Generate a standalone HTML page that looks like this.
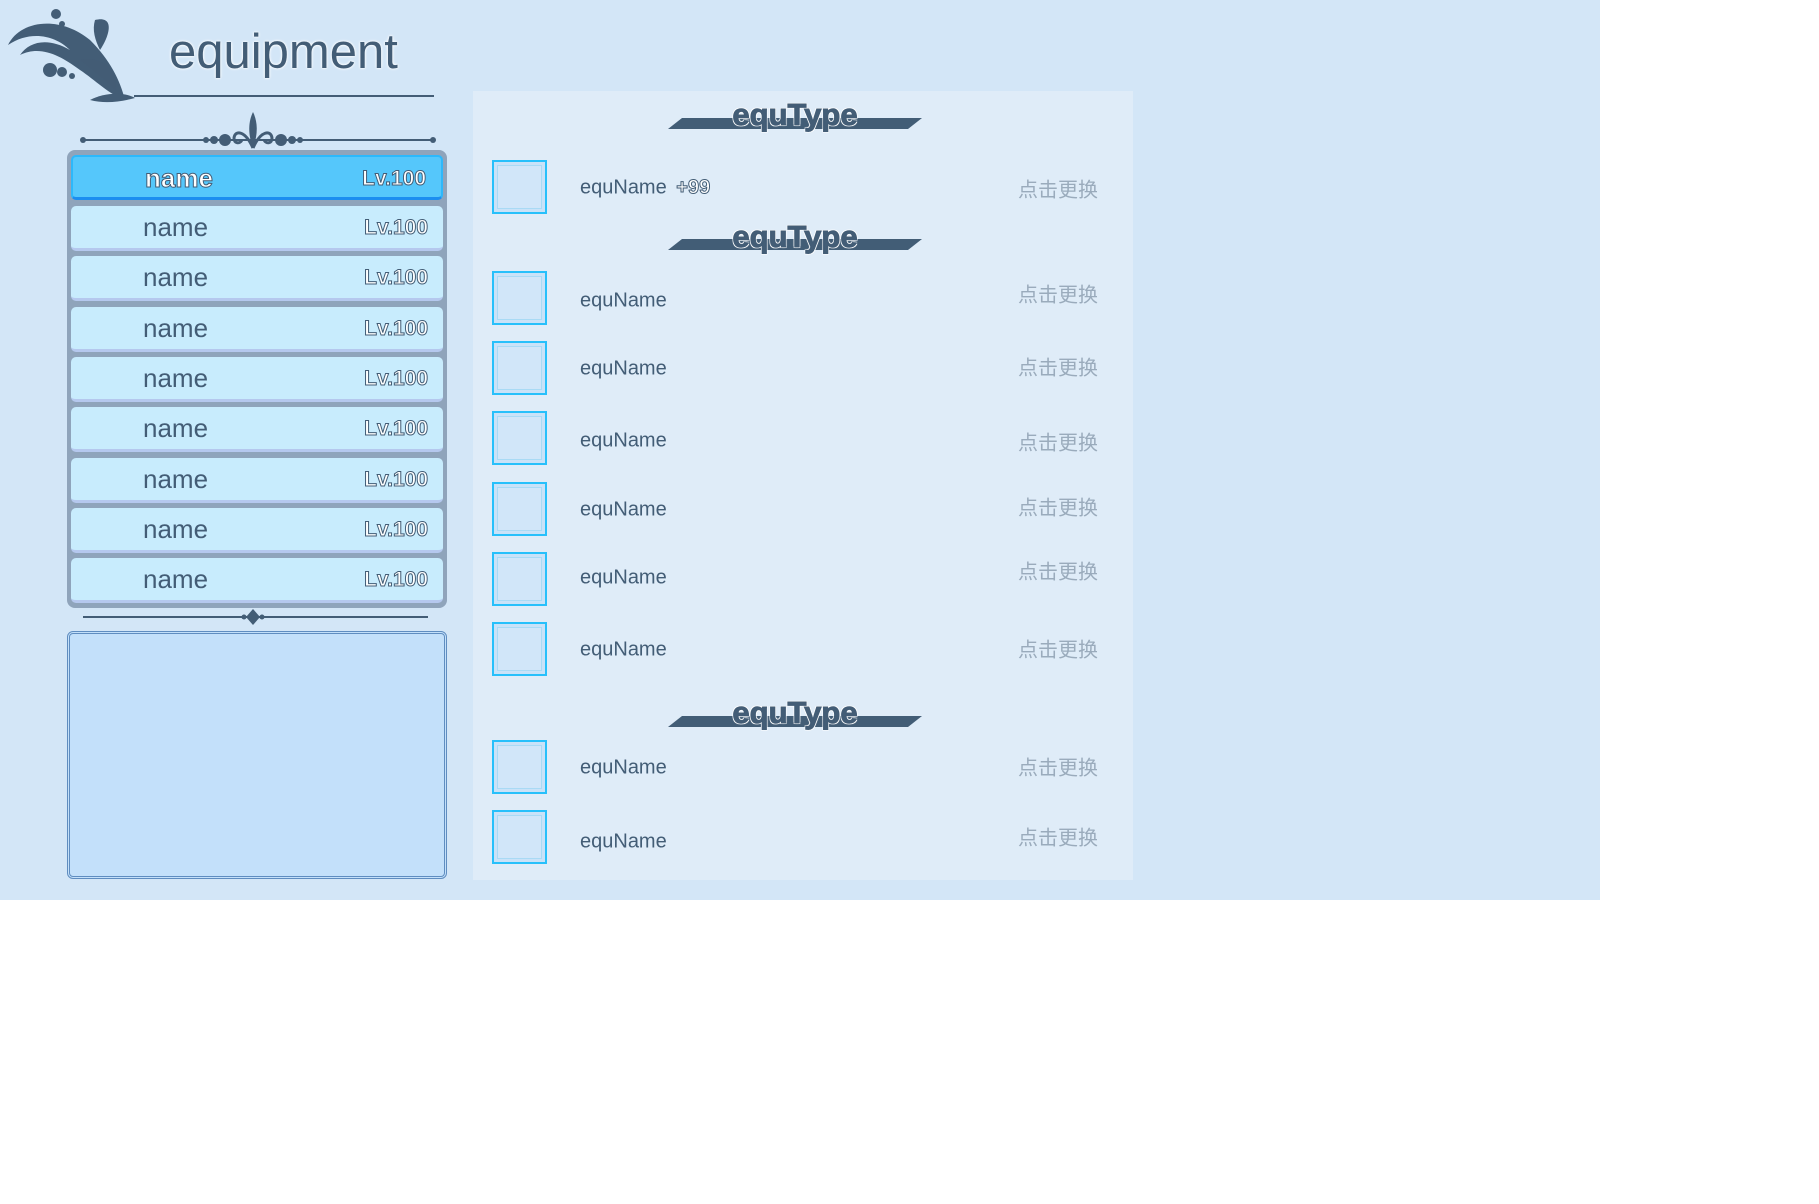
<!DOCTYPE html>
<html><head><meta charset="utf-8"><style>
*{margin:0;padding:0;box-sizing:border-box}
body{width:1819px;height:1204px;background:#fff;position:relative;overflow:hidden;font-family:"Liberation Sans","Noto Sans CJK SC",sans-serif}
.bg{position:absolute;left:0;top:0;width:1600px;height:900px;background:#d3e6f7}
.abs{position:absolute}
.title{left:169px;top:24px;font-size:49px;color:#435d76;letter-spacing:0px;text-shadow:0 0 3px #fff,0 0 2px #fff}
.list{left:67px;top:150px;width:380px;height:458px;background:#8fa4bb;border-radius:8px}
.row{position:absolute;left:4px;width:372px;height:45px;background:#c8ecfd;border-radius:5px;border-bottom:3px solid #b5c8ee}
.row .n{position:absolute;left:72px;top:6px;font-size:26px;color:#435d76}
.row .l{position:absolute;right:15px;top:10px;font-size:21px;color:#fff;-webkit-text-stroke:1px #435d76;font-weight:bold}
.row.sel{background:#55c7fb;border:2px solid #2db8fb;border-bottom:3px solid #1b8ef0}
.row.sel .n{color:#fff;-webkit-text-stroke:1px #435d76;font-weight:bold}
.desc{left:67px;top:631px;width:380px;height:248px;background:#c3e0fa;border:3px double #5f8dc0;border-radius:6px}
.rp{left:473px;top:91px;width:660px;height:789px;background:#dfecf8}
.bar{position:absolute;left:668px;width:254px;height:11px;background:#425d76;clip-path:polygon(14px 0,100% 0,calc(100% - 14px) 100%,0 100%)}
.et{position:absolute;left:668px;width:254px;text-align:center;font-size:31px;color:#435d76;font-weight:bold;-webkit-text-stroke:1px #435d76;text-shadow:0 0 2px #fff,1px 1px 0 #fff,-1px -1px 0 #fff,1px -1px 0 #fff,-1px 1px 0 #fff}
.ic{position:absolute;left:492px;width:55px;height:54px;background:#d1e6f9;border:2px solid #27c0fb;box-shadow:inset 0 0 0 3px #c9e2f8,inset 0 0 0 4px #a9daf5}
.en{position:absolute;left:580px;font-size:20px;color:#435d76;transform:translateY(-50%)}
.ch{position:absolute;left:1018px;font-size:20px;color:#9aabbc;transform:translateY(-50%)}
</style></head><body>
<div class="bg"></div>
<svg class="abs" style="left:0;top:0" width="460" height="160">
<g fill="#435d76">
<path d="M8 45 C20 20 60 15 90 40 C110 60 120 80 125 100 C110 95 95 80 80 70 C60 55 40 45 20 55 C30 40 50 38 70 50 C55 35 30 30 8 45Z"/>
<path d="M95 20 C115 15 110 35 100 50 C95 40 92 30 95 20Z"/>
<path d="M80 60 C100 55 120 70 115 90 C105 80 95 72 80 60Z" opacity=".8"/>
<circle cx="50" cy="70" r="7"/><circle cx="62" cy="72" r="5"/><circle cx="72" cy="76" r="3"/>
<circle cx="56" cy="14" r="5"/><circle cx="62" cy="24" r="3"/>
<path d="M90 100 C105 92 125 92 135 98 C120 102 105 104 90 100Z"/>
<rect x="134" y="95" width="300" height="2"/>
<rect x="83" y="139" width="350" height="2"/>
<circle cx="83" cy="140" r="3"/><circle cx="433" cy="140" r="3"/>
<circle cx="225" cy="140" r="6"/><circle cx="214" cy="140" r="4"/><circle cx="206" cy="140" r="3"/>
<circle cx="281" cy="140" r="6"/><circle cx="292" cy="140" r="4"/><circle cx="300" cy="140" r="3"/>
<path d="M253 112 C258 122 258 135 253 148 C248 135 248 122 253 112Z"/>
<path d="M253 148 C245 130 235 130 234 138 C234 144 240 144 242 140" fill="none" stroke="#435d76" stroke-width="3"/>
<path d="M253 148 C261 130 271 130 272 138 C272 144 266 144 264 140" fill="none" stroke="#435d76" stroke-width="3"/>
</g></svg>
<div class="abs title">equipment</div>
<div class="abs list">
<div class="row sel" style="top:5px"><span class="n">name</span><span class="l">Lv.100</span></div>
<div class="row" style="top:56px"><span class="n">name</span><span class="l">Lv.100</span></div>
<div class="row" style="top:106px"><span class="n">name</span><span class="l">Lv.100</span></div>
<div class="row" style="top:157px"><span class="n">name</span><span class="l">Lv.100</span></div>
<div class="row" style="top:207px"><span class="n">name</span><span class="l">Lv.100</span></div>
<div class="row" style="top:257px"><span class="n">name</span><span class="l">Lv.100</span></div>
<div class="row" style="top:308px"><span class="n">name</span><span class="l">Lv.100</span></div>
<div class="row" style="top:358px"><span class="n">name</span><span class="l">Lv.100</span></div>
<div class="row" style="top:408px"><span class="n">name</span><span class="l">Lv.100</span></div>
</div>
<svg class="abs" style="left:0;top:600px" width="460" height="40"><g fill="#435d76"><rect x="83" y="16" width="345" height="2"/><path d="M253 9 L260 17 L253 25 L246 17Z"/><circle cx="244" cy="17" r="2.5"/><circle cx="262" cy="17" r="2.5"/></g></svg>
<div class="abs desc"></div>
<div class="abs rp"></div>
<div class="bar" style="top:118px"></div><div class="et" style="top:97px">equType</div>
<div class="bar" style="top:239px"></div><div class="et" style="top:219px">equType</div>
<div class="bar" style="top:716px"></div><div class="et" style="top:695px">equType</div>
<div class="ic" style="top:160px"></div>
<div class="ic" style="top:271px"></div>
<div class="ic" style="top:341px"></div>
<div class="ic" style="top:411px"></div>
<div class="ic" style="top:482px"></div>
<div class="ic" style="top:552px"></div>
<div class="ic" style="top:622px"></div>
<div class="ic" style="top:740px"></div>
<div class="ic" style="top:810px"></div>
<div class="en" style="top:188px">equName <span style="margin-left:4px;font-weight:bold;color:#fff;-webkit-text-stroke:1px #435d76">+99</span></div>
<div class="en" style="top:301px">equName</div>
<div class="en" style="top:369px">equName</div>
<div class="en" style="top:441px">equName</div>
<div class="en" style="top:510px">equName</div>
<div class="en" style="top:578px">equName</div>
<div class="en" style="top:650px">equName</div>
<div class="en" style="top:768px">equName</div>
<div class="en" style="top:842px">equName</div>
<div class="ch" style="top:188px">点击更换</div>
<div class="ch" style="top:293px">点击更换</div>
<div class="ch" style="top:366px">点击更换</div>
<div class="ch" style="top:441px">点击更换</div>
<div class="ch" style="top:506px">点击更换</div>
<div class="ch" style="top:570px">点击更换</div>
<div class="ch" style="top:648px">点击更换</div>
<div class="ch" style="top:766px">点击更换</div>
<div class="ch" style="top:836px">点击更换</div>
</body></html>
